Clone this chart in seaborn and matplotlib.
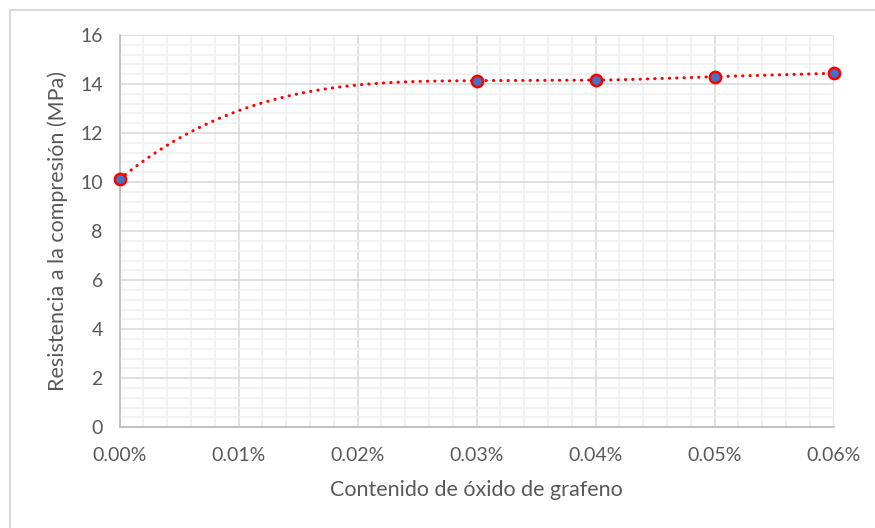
import numpy as np
import pandas as pd
import matplotlib
matplotlib.use("Agg")
import matplotlib.pyplot as plt
import seaborn as sns
from matplotlib.ticker import MultipleLocator, FuncFormatter
from matplotlib.lines import Line2D

# ---- data ----
go_content = [0.00, 0.03, 0.04, 0.05, 0.06]        # graphene oxide content, %
strength = [10.12, 14.14, 14.16, 14.30, 14.44]     # compressive strength, MPa
y_ticks = [0, 2, 4, 6, 8, 10, 12, 14, 16]
x_ticks = [0.00, 0.01, 0.02, 0.03, 0.04, 0.05, 0.06]
x_label = "Contenido de óxido de grafeno"
y_label = "Resistencia a la compresión (MPa)"


def smooth_curve(x, y, n=80):
    """Monotone cubic Hermite smoothing through the data points."""
    x = np.asarray(x, float)
    y = np.asarray(y, float)
    h = np.diff(x)
    d = np.diff(y) / h
    m = np.zeros_like(x)
    for i in range(1, len(x) - 1):
        if d[i - 1] * d[i] <= 0:
            m[i] = 0.0
        else:
            w1 = 2 * h[i] + h[i - 1]
            w2 = h[i] + 2 * h[i - 1]
            m[i] = (w1 + w2) / (w1 / d[i - 1] + w2 / d[i])
    m[0] = max(3 * d[0] - 2 * m[1], 0)
    m[-1] = max(3 * d[-1] - 2 * m[-2], 0)
    xs, ys = [], []
    for i in range(len(h)):
        t = np.linspace(0, 1, n)
        h00 = 2 * t**3 - 3 * t**2 + 1
        h10 = t**3 - 2 * t**2 + t
        h01 = -2 * t**3 + 3 * t**2
        h11 = t**3 - t**2
        xs.append(x[i] + t * h[i])
        ys.append(h00 * y[i] + h10 * h[i] * m[i] + h01 * y[i + 1] + h11 * h[i] * m[i + 1])
    return np.concatenate(xs), np.concatenate(ys)


df = pd.DataFrame({"x": go_content, "y": strength})
sx, sy = smooth_curve(go_content, strength)
curve = pd.DataFrame({"x": sx, "y": sy})

sns.set_style("white")
plt.rcParams["font.family"] = ["Lato", "DejaVu Sans"]

fig = plt.figure(figsize=(8.75, 5.28), dpi=100)
ax = fig.add_axes([119.5 / 875, 1 - 427.3 / 528, (833.5 - 119.5) / 875, (427.3 - 35) / 528])

major_c = "#d9d9d9"
minor_c = "#efefef"
txt_c = "#595959"

ax.set_xlim(x_ticks[0], x_ticks[-1])
ax.set_ylim(y_ticks[0], y_ticks[-1])
ax.xaxis.set_major_locator(MultipleLocator(0.01))
ax.xaxis.set_minor_locator(MultipleLocator(0.002))
ax.yaxis.set_major_locator(MultipleLocator(2))
ax.yaxis.set_minor_locator(MultipleLocator(0.4))
ax.xaxis.set_major_formatter(FuncFormatter(lambda v, p: f"{v:.2f}%"))
ax.yaxis.set_major_formatter(FuncFormatter(lambda v, p: f"{v:.0f}"))

ax.grid(which="minor", color=minor_c, lw=1.1, zorder=0)
ax.grid(which="major", color=major_c, lw=1.1, zorder=0)
ax.set_axisbelow(True)

sns.lineplot(data=curve, x="x", y="y", ax=ax, color="#ff0000", lw=2.2,
             sort=False, estimator=None, zorder=3)
ax.lines[-1].set_linestyle((0, (0.1, 2.3)))
ax.lines[-1].set_dash_capstyle("round")

sns.scatterplot(data=df, x="x", y="y", ax=ax, s=66, color="#4472c4",
                edgecolor="#ff0000", linewidth=1.8, zorder=4, clip_on=False)

for s in ["top", "right"]:
    ax.spines[s].set_visible(False)
for s in ["left", "bottom"]:
    ax.spines[s].set_color("#bfbfbf")
    ax.spines[s].set_linewidth(1.3)

ax.tick_params(which="major", direction="out", length=4, width=1.1, color="#bfbfbf",
               labelcolor=txt_c, labelsize=14)
ax.tick_params(which="minor", length=0)
ax.tick_params(axis="x", pad=10)
ax.tick_params(axis="y", pad=8)

ax.set_xlabel(x_label, fontsize=15.5, color=txt_c, labelpad=12)
ax.set_ylabel(y_label, fontsize=15.5, color=txt_c, labelpad=9)

# chart area border
fig.add_artist(Line2D([9.5 / 875, 1], [1 - 9.5 / 528] * 2, transform=fig.transFigure,
                      color="#d9d9d9", lw=1.5))
fig.add_artist(Line2D([9.5 / 875] * 2, [0, 1 - 9.5 / 528], transform=fig.transFigure,
                      color="#d9d9d9", lw=1.5))

fig.savefig("out.png", dpi=100)
